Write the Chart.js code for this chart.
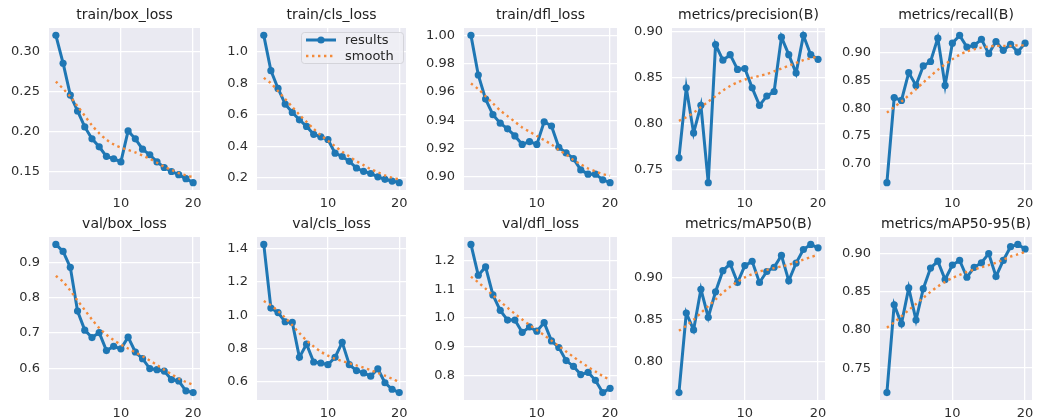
<!DOCTYPE html>
<html>
<head>
<meta charset="utf-8">
<script src="https://cdn.jsdelivr.net/npm/chart.js@4.4.1/dist/chart.umd.min.js"></script>
<style>
  html, body { margin: 0; padding: 0; background: #ffffff; }
  #wrap { position: relative; width: 1052px; height: 419px; overflow: hidden; background: #ffffff; }
  #wrap canvas { position: absolute; }
</style>
</head>
<body>
<div id="wrap"></div>
<script>
// ---------------- DATA ----------------
const epochs = [1,2,3,4,5,6,7,8,9,10,11,12,13,14,15,16,17,18,19,20];
const xTickLabels = ['10', '20'];

const panelTitles = ['train/box_loss','train/cls_loss','train/dfl_loss','metrics/precision(B)','metrics/recall(B)',
                     'val/box_loss','val/cls_loss','val/dfl_loss','metrics/mAP50(B)','metrics/mAP50-95(B)'];
const seriesLabels = ['results', 'smooth'];

const trainBoxLoss       = [0.321,0.286,0.246,0.226,0.206,0.191,0.181,0.169,0.166,0.162,0.201,0.191,0.178,0.171,0.162,0.155,0.150,0.146,0.141,0.136];
const trainBoxLossSmooth = [0.263,0.254,0.244,0.232,0.220,0.208,0.198,0.190,0.184,0.180,0.177,0.174,0.170,0.166,0.161,0.156,0.152,0.148,0.145,0.143];
const trainBoxLossTicks  = ['0.15','0.20','0.25','0.30'];

const trainClsLoss       = [1.104,0.880,0.767,0.668,0.615,0.568,0.526,0.476,0.460,0.443,0.356,0.335,0.304,0.262,0.241,0.227,0.206,0.190,0.179,0.169];
const trainClsLossSmooth = [0.834,0.800,0.750,0.700,0.650,0.600,0.555,0.510,0.470,0.435,0.400,0.365,0.335,0.305,0.280,0.255,0.235,0.215,0.200,0.190];
const trainClsLossTicks  = ['0.2','0.4','0.6','0.8','1.0'];

const trainDflLoss       = [1.000,0.972,0.955,0.944,0.938,0.934,0.929,0.923,0.925,0.923,0.939,0.936,0.921,0.917,0.913,0.905,0.902,0.902,0.898,0.896];
const trainDflLossSmooth = [0.966,0.962,0.957,0.952,0.947,0.943,0.939,0.935,0.932,0.929,0.926,0.923,0.919,0.916,0.912,0.909,0.906,0.904,0.902,0.901];
const trainDflLossTicks  = ['0.90','0.92','0.94','0.96','0.98','1.00'];

const precision       = [0.763,0.839,0.790,0.820,0.736,0.886,0.869,0.875,0.859,0.860,0.839,0.820,0.830,0.835,0.894,0.875,0.855,0.896,0.875,0.870];
const precisionSmooth = [0.803,0.807,0.812,0.818,0.824,0.830,0.836,0.841,0.845,0.848,0.850,0.852,0.854,0.857,0.860,0.863,0.866,0.869,0.871,0.873];
const precisionTicks  = ['0.75','0.80','0.85','0.90'];

const recall       = [0.666,0.819,0.814,0.864,0.841,0.876,0.884,0.926,0.841,0.917,0.931,0.910,0.913,0.924,0.898,0.920,0.904,0.915,0.901,0.917];
const recallSmooth = [0.792,0.802,0.812,0.823,0.834,0.846,0.858,0.869,0.879,0.888,0.896,0.902,0.906,0.909,0.911,0.912,0.912,0.912,0.913,0.913];
const recallTicks  = ['0.70','0.75','0.80','0.85','0.90'];

const valBoxLoss       = [0.951,0.931,0.886,0.762,0.708,0.687,0.701,0.650,0.662,0.655,0.688,0.646,0.627,0.599,0.596,0.592,0.568,0.564,0.536,0.531];
const valBoxLossSmooth = [0.862,0.845,0.820,0.792,0.765,0.738,0.714,0.695,0.680,0.667,0.656,0.645,0.634,0.622,0.609,0.596,0.583,0.571,0.561,0.553];
const valBoxLossTicks  = ['0.6','0.7','0.8','0.9'];

const valClsLoss       = [1.424,1.043,1.016,0.961,0.957,0.748,0.827,0.720,0.714,0.704,0.748,0.838,0.704,0.669,0.655,0.635,0.679,0.596,0.557,0.537];
const valClsLossSmooth = [1.085,1.060,1.025,0.985,0.940,0.893,0.850,0.813,0.782,0.758,0.740,0.726,0.713,0.700,0.686,0.671,0.655,0.638,0.620,0.600];
const valClsLossTicks  = ['0.6','0.8','1.0','1.2','1.4'];

const valDflLoss       = [1.258,1.150,1.179,1.081,1.027,0.993,0.993,0.950,0.969,0.954,0.984,0.920,0.897,0.851,0.831,0.802,0.810,0.782,0.739,0.754];
const valDflLossSmooth = [1.145,1.125,1.103,1.080,1.058,1.036,1.015,0.995,0.976,0.958,0.940,0.921,0.902,0.883,0.864,0.846,0.829,0.813,0.797,0.783];
const valDflLossTicks  = ['0.8','0.9','1.0','1.1','1.2'];

const mAP50       = [0.764,0.858,0.838,0.886,0.853,0.883,0.908,0.916,0.894,0.914,0.919,0.894,0.907,0.912,0.926,0.896,0.917,0.933,0.939,0.935];
const mAP50Smooth = [0.837,0.843,0.850,0.858,0.866,0.874,0.882,0.889,0.895,0.900,0.904,0.907,0.909,0.911,0.913,0.915,0.918,0.921,0.924,0.927];
const mAP50Ticks  = ['0.80','0.85','0.90'];

const mAP5095       = [0.718,0.833,0.808,0.855,0.813,0.854,0.881,0.890,0.866,0.885,0.891,0.869,0.882,0.888,0.900,0.870,0.891,0.909,0.912,0.906];
const mAP5095Smooth = [0.803,0.810,0.818,0.826,0.834,0.842,0.850,0.857,0.863,0.868,0.872,0.876,0.879,0.882,0.885,0.888,0.892,0.896,0.899,0.902];
const mAP5095Ticks  = ['0.75','0.80','0.85','0.90'];

// ---------------- LAYOUT ----------------
const panels = [
  [trainBoxLoss, trainBoxLossSmooth, trainBoxLossTicks],
  [trainClsLoss, trainClsLossSmooth, trainClsLossTicks],
  [trainDflLoss, trainDflLossSmooth, trainDflLossTicks],
  [precision, precisionSmooth, precisionTicks],
  [recall, recallSmooth, recallTicks],
  [valBoxLoss, valBoxLossSmooth, valBoxLossTicks],
  [valClsLoss, valClsLossSmooth, valClsLossTicks],
  [valDflLoss, valDflLossSmooth, valDflLossTicks],
  [mAP50, mAP50Smooth, mAP50Ticks],
  [mAP5095, mAP5095Smooth, mAP5095Ticks]
];

const plotLefts  = [49, 257, 464, 672, 880];
const plotWidths = [151, 149, 153, 153, 152];
const rowTops    = [0, 209];
const rowPlotBottoms = [190, 191]; // relative to row top
const Y_AXIS_W = 48, RIGHT_PAD = 12, PLOT_TOP = 28;
const X_AXIS_H = 22;

const BLUE = '#1f77b4';
const ORANGE = '#f38a3a';
const FONT = "'DejaVu Sans', 'Liberation Sans', sans-serif";

const bgPlugin = {
  id: 'axesBg',
  beforeDraw(chart) {
    const a = chart.chartArea, ctx = chart.ctx;
    ctx.save();
    ctx.fillStyle = '#eaeaf2';
    ctx.fillRect(a.left, a.top, a.right - a.left, a.bottom - a.top);
    ctx.restore();
  }
};

const legendPlugin = {
  id: 'insideLegend',
  afterDraw(chart, args, opts) {
    if (!opts || !opts.show) return;
    const a = chart.chartArea, ctx = chart.ctx;
    const w = 102, h = 31;
    const x0 = a.right - w - 3, y0 = a.top + 4;
    ctx.save();
    ctx.beginPath();
    ctx.roundRect(x0 + 0.5, y0 + 0.5, w, h, 3);
    ctx.fillStyle = 'rgba(238,238,245,0.85)';
    ctx.fill();
    ctx.strokeStyle = 'rgba(210,210,215,0.9)';
    ctx.lineWidth = 1;
    ctx.stroke();
    const ds = chart.data.datasets;
    const rows = [y0 + 8, y0 + 24];
    ds.forEach((d, i) => {
      const y = rows[i];
      const lx0 = x0 + 5, lx1 = x0 + 35;
      ctx.beginPath();
      ctx.setLineDash(d.borderDash || []);
      ctx.strokeStyle = d.borderColor;
      ctx.lineWidth = d.borderWidth;
      ctx.moveTo(lx0, y);
      ctx.lineTo(lx1, y);
      ctx.stroke();
      ctx.setLineDash([]);
      if (d.pointRadius > 0) {
        ctx.beginPath();
        ctx.fillStyle = d.borderColor;
        ctx.arc((lx0 + lx1) / 2, y, d.pointRadius, 0, Math.PI * 2);
        ctx.fill();
      }
      ctx.fillStyle = '#262626';
      ctx.font = '13px ' + FONT;
      ctx.textBaseline = 'middle';
      ctx.textAlign = 'left';
      ctx.fillText(d.label, x0 + 44, y + 1);
    });
    ctx.restore();
  }
};

const wrap = document.getElementById('wrap');

panels.forEach((p, idx) => {
  const [vals, smooth, tickLabels] = p;
  const row = Math.floor(idx / 5), col = idx % 5;
  const cLeft = plotLefts[col] - Y_AXIS_W;
  const cWidth = Y_AXIS_W + plotWidths[col] + RIGHT_PAD;
  const cHeight = rowPlotBottoms[row] + X_AXIS_H;
  const canvas = document.createElement('canvas');
  canvas.width = cWidth; canvas.height = cHeight;
  canvas.style.left = cLeft + 'px';
  canvas.style.top = rowTops[row] + 'px';
  canvas.style.width = cWidth + 'px';
  canvas.style.height = cHeight + 'px';
  wrap.appendChild(canvas);

  // matplotlib-style autoscale: 5% margins
  const all = vals.concat(smooth);
  const lo = Math.min(...all), hi = Math.max(...all);
  const m = (hi - lo) * 0.05;
  const xlo = epochs[0], xhi = epochs[epochs.length - 1];
  const xm = (xhi - xlo) * 0.05;

  new Chart(canvas, {
    type: 'line',
    data: {
      datasets: [
        {
          label: seriesLabels[0],
          data: epochs.map((e, i) => ({ x: e, y: vals[i] })),
          borderColor: BLUE, backgroundColor: BLUE,
          borderWidth: 3, pointRadius: 3.6, pointBorderWidth: 0,
          pointBackgroundColor: BLUE, tension: 0, order: 2
        },
        {
          label: seriesLabels[1],
          data: epochs.map((e, i) => ({ x: e, y: smooth[i] })),
          borderColor: ORANGE, backgroundColor: ORANGE,
          borderWidth: 2.4, borderDash: [2.4, 3.6], pointRadius: 0,
          tension: 0.3, order: 1
        }
      ]
    },
    options: {
      responsive: false,
      animation: false,
      devicePixelRatio: 1,
      layout: { padding: { left: 0, right: RIGHT_PAD, top: 0, bottom: 0 } },
      plugins: {
        legend: { display: false },
        tooltip: { enabled: false },
        title: {
          display: true, text: panelTitles[idx], fullSize: false,
          color: '#222222',
          font: { family: FONT, size: 14, weight: 'normal', lineHeight: 1 },
          padding: { top: 8.5, bottom: PLOT_TOP - 8.5 - 14 }
        },
        insideLegend: { show: idx === 1 }
      },
      scales: {
        x: {
          type: 'linear', min: xlo - xm, max: xhi + xm,
          afterBuildTicks: (s) => { s.ticks = xTickLabels.map(t => ({ value: parseFloat(t) })); },
          afterFit: (s) => { s.height = X_AXIS_H; },
          ticks: {
            callback: (v) => String(v),
            color: '#2e2e2e', padding: 6, maxRotation: 0, autoSkip: false,
            font: { family: FONT, size: 13 }
          },
          grid: { color: '#ffffff', lineWidth: 1.3, drawTicks: false },
          border: { display: false }
        },
        y: {
          type: 'linear', min: lo - m, max: hi + m,
          afterBuildTicks: (s) => { s.ticks = tickLabels.map(t => ({ value: parseFloat(t) })); },
          afterFit: (s) => { s.width = Y_AXIS_W; },
          ticks: {
            callback: (v) => {
              const f = tickLabels.find(t => Math.abs(parseFloat(t) - v) < 1e-9);
              return f !== undefined ? f : String(v);
            },
            color: '#2e2e2e', padding: 9, autoSkip: false,
            font: { family: FONT, size: 13 }
          },
          grid: { color: '#ffffff', lineWidth: 1.3, drawTicks: false },
          border: { display: false }
        }
      }
    },
    plugins: [bgPlugin, legendPlugin]
  });
});
</script>
</body>
</html>
